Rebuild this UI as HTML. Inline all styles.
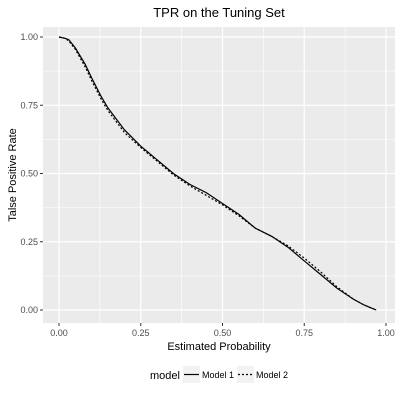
<!DOCTYPE html>
<html><head><meta charset="utf-8"><style>
body{margin:0;background:#fff;}
svg text{font-family:"Liberation Sans",sans-serif;}
</style></head><body>
<svg id="c" width="400" height="400"></svg>
<script>
const xVals=[0,0.02,0.03,0.05,0.08,0.1,0.13,0.15,0.2,0.25,0.3,0.35,0.4,0.45,0.5,0.55,0.6,0.65,0.7,0.75,0.8,0.85,0.9,0.93,0.95,0.97];
const model1=[1,0.995,0.99,0.96,0.9,0.85,0.78,0.74,0.66,0.6,0.55,0.5,0.46,0.43,0.39,0.35,0.3,0.27,0.23,0.18,0.13,0.08,0.04,0.02,0.01,0];
const model2=[1,0.995,0.985,0.955,0.89,0.84,0.77,0.73,0.65,0.595,0.545,0.495,0.455,0.42,0.385,0.345,0.3,0.27,0.235,0.19,0.14,0.085,0.04,0.02,0.01,0];
const xTicks=[0,0.25,0.5,0.75,1];
const xTickLabels=["0.00","0.25","0.50","0.75","1.00"];
const yTicks=[0,0.25,0.5,0.75,1];
const yTickLabels=["0.00","0.25","0.50","0.75","1.00"];
const NS="http://www.w3.org/2000/svg";
const svg=document.getElementById('c');
const X=v=>59+v*327, Y=v=>310-v*273;
function mk(t,a,p){const e=document.createElementNS(NS,t);for(const k in a)e.setAttribute(k,a[k]);(p||svg).appendChild(e);return e;}
let e=mk('rect',{x:43,y:27,width:352,height:296,fill:'#ebebeb'});


[0.125,0.375,0.625,0.875].forEach(v=>{mk('line',{x1:X(v),x2:X(v),y1:27,y2:323,stroke:'#fff','stroke-width':0.6});mk('line',{x1:43,x2:395,y1:Y(v),y2:Y(v),stroke:'#fff','stroke-width':0.6});});
xTicks.forEach((v,i)=>{mk('line',{x1:X(v),x2:X(v),y1:27,y2:323,stroke:'#fff','stroke-width':1.2});mk('line',{x1:X(v),x2:X(v),y1:323,y2:326,stroke:'#333'});
e=mk('text',{x:X(v),y:336,'text-anchor':'middle','font-size':9,fill:'#4d4d4d'});e.textContent=xTickLabels[i];

});
yTicks.forEach((v,i)=>{mk('line',{x1:43,x2:395,y1:Y(v),y2:Y(v),stroke:'#fff','stroke-width':1.2});mk('line',{x1:40,x2:43,y1:Y(v),y2:Y(v),stroke:'#333'});
e=mk('text',{x:38,y:Y(v)+3,'text-anchor':'end','font-size':9,fill:'#4d4d4d'});e.textContent=yTickLabels[i];

});
function path(ys,dash,name){const d=xVals.map((x,i)=>(i?'L':'M')+X(x).toFixed(1)+','+Y(ys[i]).toFixed(1)).join('');
const p=mk('path',{d:d,fill:'none',stroke:'#000','stroke-width':1.2,'stroke-dasharray':dash});

}
path(model2,'2,2','line-model-2');
path(model1,'none','line-model-1');
e=mk('text',{x:219,y:17,'text-anchor':'middle','font-size':13,fill:'#000'});e.textContent='TPR on the Tuning Set';


e=mk('text',{x:219,y:350,'text-anchor':'middle','font-size':11,fill:'#000'});e.textContent='Estimated Probability';


e=mk('text',{x:0,y:0,'text-anchor':'middle','font-size':11,fill:'#000',transform:'translate(16,175) rotate(-90)'});e.textContent='Talse Positive Rate';


e=mk('text',{x:150,y:379,'font-size':11,fill:'#000'});e.textContent='model';


mk('rect',{x:183,y:366,width:17,height:17,fill:'#f2f2f2'});
mk('line',{x1:184,x2:199,y1:374.5,y2:374.5,stroke:'#000','stroke-width':1.2});
e=mk('text',{x:202,y:378,'font-size':9,fill:'#000'});e.textContent='Model 1';


mk('rect',{x:237,y:366,width:17,height:17,fill:'#f2f2f2'});
mk('line',{x1:238,x2:253,y1:374.5,y2:374.5,stroke:'#000','stroke-width':1.2,'stroke-dasharray':'2,2'});
e=mk('text',{x:256,y:378,'font-size':9,fill:'#000'});e.textContent='Model 2';


</script>
</body></html>
